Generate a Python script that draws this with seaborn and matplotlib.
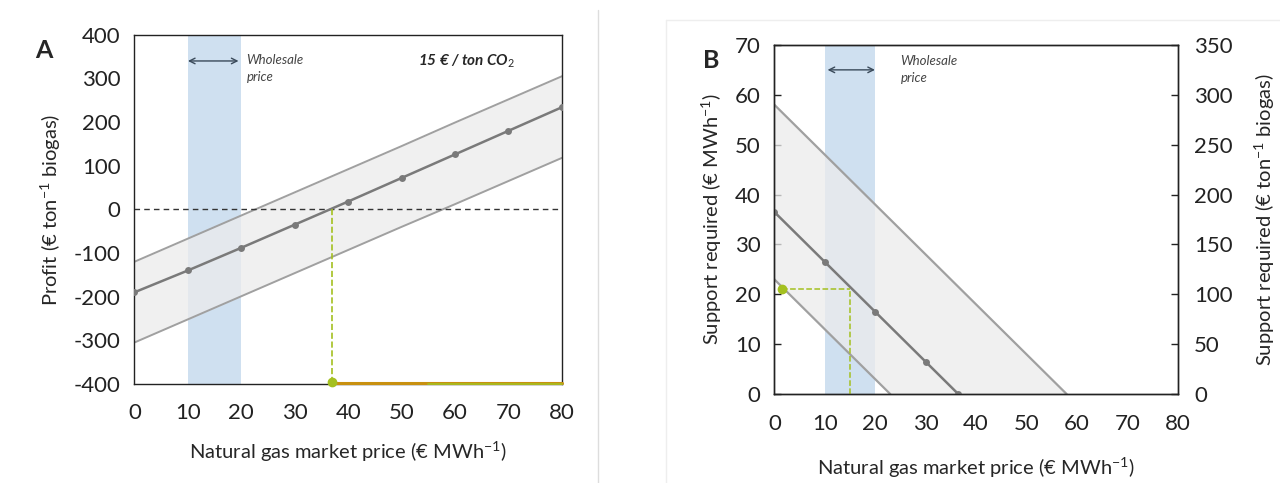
import numpy as np
import pandas as pd
import matplotlib
matplotlib.use("Agg")
import matplotlib.pyplot as plt
import seaborn as sns

# panel A: profit vs natural gas price
price_a = [0, 10, 20, 30, 40, 50, 60, 70, 80]
profit_mid = [-190, -140, -88, -35, 18, 72, 126, 180, 234]
profit_hi = [-120, -67, -14, 39, 92, 145, 199, 252, 305]
profit_lo = [-305, -252, -199, -146, -93, -40, 12, 65, 118]
breakeven_a = 37

# panel B: support required
price_b = [0, 10, 20, 30, 36.5]
support_mid = [36.5, 26.5, 16.5, 6.5, 0]
band_x = [0, 23, 58]
support_hi = [58, 35, 0]
support_lo = [23, 0, 0]
green_x = 15
green_y = 21
green_pt_x = 1.5

wholesale = (10, 20)

sns.set_style("white")
plt.rcParams['font.family'] = ['Lato', 'DejaVu Sans']
plt.rcParams['axes.unicode_minus'] = False
plt.rcParams['mathtext.fontset'] = 'custom'
plt.rcParams['mathtext.rm'] = 'Lato'
plt.rcParams['mathtext.it'] = 'Lato:italic'
plt.rcParams['mathtext.bf'] = 'Lato:bold'

fig = plt.figure(figsize=(12.8, 4.83), dpi=100)
axA = fig.add_axes([0.105, 0.205, 0.334, 0.723])
axB = fig.add_axes([0.605, 0.184, 0.315, 0.723])

band_col = "#cfe0f0"
line_col = "#a0a0a0"
mid_col = "#7a7a7a"
fill_col = "#ececec"
green = "#a4c020"
fs = 16
lfs = 14.5

# ---- A ----
axA.axvspan(*wholesale, color=band_col, lw=0, zorder=0)
axA.fill_between(price_a, profit_lo, profit_hi, color=fill_col, alpha=0.75, lw=0, zorder=1)
sns.lineplot(x=price_a, y=profit_hi, ax=axA, color=line_col, lw=1.4, zorder=2)
sns.lineplot(x=price_a, y=profit_lo, ax=axA, color=line_col, lw=1.4, zorder=2)
sns.lineplot(x=price_a, y=profit_mid, ax=axA, color=mid_col, lw=1.8, marker="o",
             markersize=5, markeredgewidth=0, zorder=3)
axA.axhline(0, color="#333333", ls="--", lw=1, dashes=(4, 3), zorder=2)
axA.plot([breakeven_a, breakeven_a], [0, -400], color=green, ls="--", lw=1.2, zorder=4)
axA.plot([breakeven_a, 80], [-398, -398], color="#c89010", lw=2.2, zorder=4, clip_on=False)
axA.plot([80 - 25, 80], [-399, -399], color=green, lw=1.2, zorder=4, clip_on=False)
axA.plot([breakeven_a], [-396], marker="o", color=green, ms=6, zorder=5, clip_on=False)
axA.set_xlim(0, 80)
axA.set_ylim(-400, 400)
axA.set_xticks(range(0, 81, 10))
axA.set_yticks(range(-400, 401, 100))
axA.set_xlabel("Natural gas market price (€ MWh$^{-1}$)", fontsize=lfs, labelpad=12)
axA.set_ylabel("Profit (€ ton$^{-1}$ biogas)", fontsize=lfs, labelpad=8)
axA.annotate("", xy=(9.5, 340), xytext=(20, 340),
             arrowprops=dict(arrowstyle="<->", color="#3a4a5a", lw=1))
axA.text(21, 355, "Wholesale\nprice", fontsize=9.5, style="italic", color="#444444",
         va="top", linespacing=1.5)
axA.text(53, 340, "15 € / ton CO$_2$", fontsize=11, style="italic", weight="bold",
         va="center")
fig.text(44 / 1280, 1 - 50 / 483, "A", fontsize=18, weight="bold", ha="center", va="center")

# ---- B ----
axB.axvspan(*wholesale, color=band_col, lw=0, zorder=0)
axB.fill_between(band_x, support_lo, support_hi, color=fill_col, alpha=0.75, lw=0, zorder=1)
sns.lineplot(x=[0, 58], y=[58, 0], ax=axB, color=line_col, lw=1.6, zorder=2)
sns.lineplot(x=[0, 23], y=[23, 0], ax=axB, color=line_col, lw=1.6, zorder=2)
sns.lineplot(x=price_b, y=support_mid, ax=axB, color=mid_col, lw=1.8, marker="o",
             markersize=5, markeredgewidth=0, zorder=3)
axB.plot([green_x, green_x], [0, green_y], color=green, ls="--", lw=1.1, zorder=4)
axB.plot([green_pt_x, green_x], [green_y, green_y], color=green, ls="--", lw=1.1, zorder=4)
axB.plot([green_pt_x], [green_y], marker="o", color=green, ms=6, zorder=5)
axB.set_xlim(0, 80)
axB.set_ylim(0, 70)
axB.set_xticks(range(0, 81, 10))
axB.set_yticks(range(0, 71, 10))
axB.set_xlabel("Natural gas market price (€ MWh$^{-1}$)", fontsize=lfs, labelpad=16)
axB.set_ylabel("Support required (€ MWh$^{-1}$)", fontsize=lfs, labelpad=8)
axB.annotate("", xy=(10, 65), xytext=(20.5, 65),
             arrowprops=dict(arrowstyle="<->", color="#3a4a5a", lw=1))
axB.text(25, 68, "Wholesale\nprice", fontsize=9.5, style="italic", color="#444444",
         va="top", linespacing=1.5)
fig.text(711 / 1280, 1 - 60 / 483, "B", fontsize=18, weight="bold", ha="center", va="center")

axB2 = axB.twinx()
axB2.set_ylim(0, 350)
axB2.set_yticks(range(0, 351, 50))
axB2.set_ylabel("Support required (€ ton$^{-1}$ biogas)", fontsize=lfs, labelpad=14)

for ax in (axA, axB, axB2):
    for s in ax.spines.values():
        s.set_color("#222222")
        s.set_linewidth(1)
    ax.tick_params(direction="in", length=5, width=1, labelsize=fs, pad=8,
                   colors="#222222")
axB2.tick_params(axis="y", pad=12)
axA.tick_params(axis="x", pad=14)
axB.tick_params(axis="x", pad=14)
axB.tick_params(axis="y", pad=10)
axA.tick_params(axis="y", pad=10)

# panel separators
fig.add_artist(plt.Line2D([0.467, 0.467], [0.0, 0.98], color="#dddddd", lw=1))
fig.add_artist(plt.Line2D([0.52, 1.0], [0.958, 0.958], color="#eeeeee", lw=1))
fig.add_artist(plt.Line2D([0.52, 0.52], [0.0, 0.958], color="#eeeeee", lw=1))

fig.savefig("out.png", dpi=100, facecolor="white")
